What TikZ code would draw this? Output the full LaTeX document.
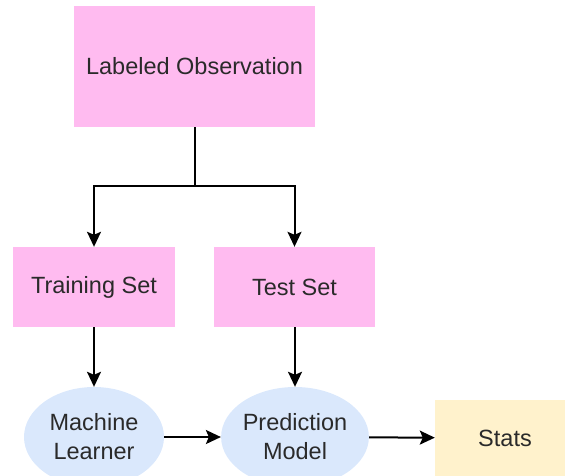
\documentclass[tikz,border=0pt]{standalone}
\usepackage{fontspec}
\setmainfont{Liberation Sans}
\usetikzlibrary{arrows.meta,shapes.geometric}
\definecolor{boxpink}{HTML}{FFBBF0}
\definecolor{ovalblue}{HTML}{DAE8FC}
\definecolor{statyellow}{HTML}{FFF2CC}
\definecolor{inktext}{HTML}{2A2A2A}
\tikzset{
  every node/.style={font=\fontsize{23.5}{29}\selectfont, text=inktext, align=center, inner sep=0pt},
  pinkbox/.style={rectangle, fill=boxpink},
  oval/.style={ellipse, fill=ovalblue, minimum width=140pt, minimum height=100pt},
  statbox/.style={rectangle, fill=statyellow, minimum width=140pt, minimum height=76pt},
  arr/.style={line width=2pt, -{Stealth[length=15pt,width=14pt,inset=3pt]}, draw=black},
}
\begin{document}
\begin{tikzpicture}[x=1pt,y=-1pt]
  \useasboundingbox (0,0) rectangle (565,475);
  \clip (0,0) rectangle (565,475);
  % source data and the two splits
  \node[pinkbox, minimum width=241pt, minimum height=121pt] (obs) at (194.5,66.5) {Labeled Observation};
  \node[pinkbox, minimum width=162pt, minimum height=80pt] (train) at (94,287) {Training Set};
  \node[pinkbox, minimum width=161pt, minimum height=80pt] (test) at (294.5,287) {Test Set};
  % learning and evaluation stages
  \node[oval] (learner) at (94,437) {Machine\\Learner};
  \node[oval] (model) at (295,437) {Prediction\\Model};
  \node[statbox] (stats) at (505,438) {Stats};
  % connectors
  \coordinate (split) at (194.5,186);
  \draw[line width=2pt] (obs.south) -- (split);
  \draw[arr] (split) -| (train.north);
  \draw[arr] (split) -| (test.north);
  \draw[arr] (train) -- (learner);
  \draw[arr] (test.south -| model.north) -- (model.north);
  \draw[arr] (learner) -- (model);
  \draw[arr] (model) -- (stats);
\end{tikzpicture}
\end{document}
